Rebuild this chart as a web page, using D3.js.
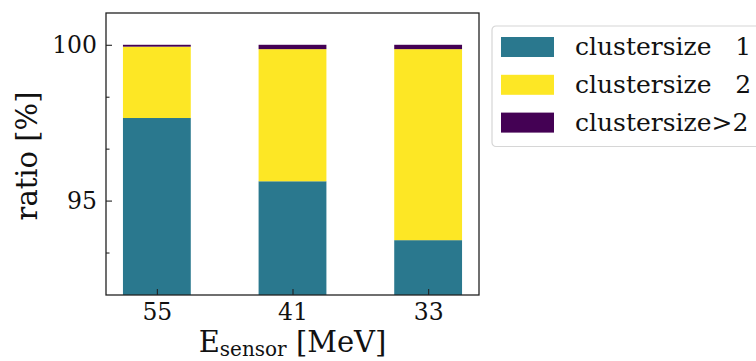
<!DOCTYPE html>
<html>
<head>
<meta charset="utf-8">
<script src="https://cdn.jsdelivr.net/npm/d3@7"></script>
<style>
  body { margin: 0; background: #fff; }
  text { font-family: "DejaVu Serif", serif; fill: #111; }
</style>
</head>
<body>
<div id="chart"></div>
<script>
// —————— DATA
var energies = ["55", "41", "33"];
var cluster1 = [97.65, 95.62, 93.73];
var cluster2 = [2.29, 4.24, 6.13];
var clusterMore = [0.06, 0.14, 0.14];
var seriesNames = ["clustersize   1", "clustersize   2", "clustersize>2"];
var seriesColors = ["#2a788e", "#fde725", "#440154"];
var yTicksMajor = [95, 100];

// —————— LAYOUT
var W = 756, H = 361;
var margin = {top: 13, left: 106, right: 277, bottom: 66};
var width = W - margin.left - margin.right,
    height = H - margin.top - margin.bottom;

var svg = d3.select("#chart").append("svg")
    .attr("width", W).attr("height", H);

var g = svg.append("g")
    .attr("transform", "translate(" + margin.left + "," + margin.top + ")");

var x = d3.scaleLinear().domain([-0.375, 2.375]).range([0, width]);
var y = d3.scaleLinear().domain([91.97, 101.02]).range([height, 0]);
var barW = x(0.5) - x(0);

// stack the data
var rows = energies.map(function(e, i) {
  return {e: e, c1: cluster1[i], c2: cluster2[i], c3: clusterMore[i]};
});
var stacked = d3.stack().keys(["c1", "c2", "c3"])(rows);

g.append("clipPath").attr("id", "clip")
  .append("rect").attr("width", width).attr("height", height);

g.append("g").attr("clip-path", "url(#clip)")
  .selectAll("g.layer")
  .data(stacked)
  .enter().append("g")
    .attr("class", "layer")
    .attr("fill", function(d, i) { return seriesColors[i]; })
  .selectAll("rect")
  .data(function(d) { return d; })
  .enter().append("rect")
    .attr("x", function(d, i) { return x(i) - barW / 2; })
    .attr("width", barW)
    .attr("y", function(d) { return y(d[1]); })
    .attr("height", function(d) { return y(d[0]) - y(d[1]); });

// axes, ticks pointing inward
var yAxis = g.append("g")
  .call(d3.axisLeft(y).tickValues(yTicksMajor).tickSize(-6).tickPadding(9).tickFormat(d3.format("d")));
yAxis.select(".domain").remove();
yAxis.selectAll("text").style("font-size", "23.5px").attr("font-family", null);

var minor = d3.range(0, 6).map(function(k) { return 100 - k * 5 / 3; })
  .filter(function(v) { return yTicksMajor.indexOf(Math.round(v * 1000) / 1000) < 0 && v > 92; });
g.append("g")
  .call(d3.axisLeft(y).tickValues(minor).tickSize(-3.5).tickFormat(""))
  .select(".domain").remove();

var xAxis = g.append("g")
  .attr("transform", "translate(0," + height + ")")
  .call(d3.axisBottom(x).tickValues([0, 1, 2]).tickSize(-6).tickPadding(8)
    .tickFormat(function(d) { return energies[d]; }));
xAxis.select(".domain").remove();
xAxis.selectAll("text").style("font-size", "23.5px").attr("font-family", null);
g.selectAll(".tick line").attr("stroke", "#222").attr("stroke-width", 1.1);

g.append("rect")
  .attr("width", width).attr("height", height)
  .attr("fill", "none").attr("stroke", "#222").attr("stroke-width", 1.3);

// axis labels
var xl = svg.append("text")
  .attr("x", margin.left + width / 2).attr("y", 352)
  .attr("text-anchor", "middle")
  .style("font-size", "29px");
xl.append("tspan").text("E");
xl.append("tspan").attr("dy", 4).style("font-size", "20px").text("sensor");
xl.append("tspan").attr("dy", -4).text(" [MeV]");

svg.append("text")
  .attr("transform", "translate(37," + 156 + ") rotate(-90)")
  .attr("text-anchor", "middle")
  .style("font-size", "29px")
  .text("ratio [%]");

// legend
var leg = svg.append("g").attr("transform", "translate(492,26)");
leg.append("rect")
  .attr("width", 290).attr("height", 120.5)
  .attr("rx", 4)
  .attr("fill", "#fff").attr("stroke", "#d6d6d6").attr("stroke-width", 1.2);

var item = leg.selectAll("g.item")
  .data(seriesNames)
  .enter().append("g")
    .attr("class", "item")
    .attr("transform", function(d, i) { return "translate(9," + (11 + i * 37.8) + ")"; });
item.append("rect")
  .attr("width", 53).attr("height", 20)
  .attr("fill", function(d, i) { return seriesColors[i]; });
item.append("text")
  .attr("x", 74).attr("y", 18)
  .attr("xml:space", "preserve")
  .style("white-space", "pre")
  .style("font-size", "25px")
  .text(function(d) { return d; });
</script>
</body>
</html>
